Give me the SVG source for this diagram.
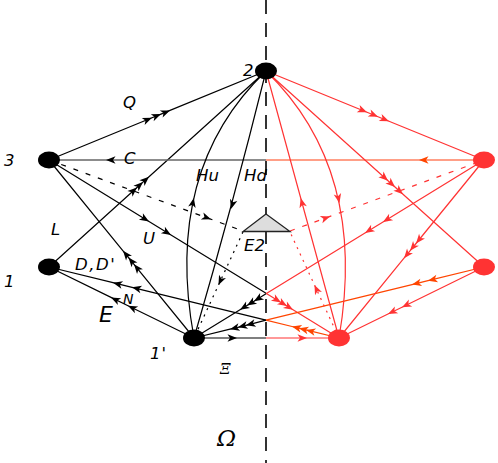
<svg xmlns="http://www.w3.org/2000/svg" width="498" height="463" viewBox="0 0 498 463">
<style>
.k{stroke:#000;stroke-width:1.2;fill:none}
.r{stroke:#ff3333;stroke-width:1.2;fill:none}
.o{stroke:#ff4500;stroke-width:1.2;fill:none}
.g{stroke:#666;stroke-width:1.4;fill:none}
.c{stroke:#ff7f5f;stroke-width:1.6;fill:none}
.mk{marker-mid:url(#ak)}
.mr{marker-mid:url(#ar)}
.mo{marker-mid:url(#ao)}
.dash{stroke-dasharray:5,8}
.dot{stroke-dasharray:2,5}
.lab{font-family:"DejaVu Sans",sans-serif;font-style:italic;font-size:16.5px;fill:#000}
</style>
<defs>
<marker id="ak" viewBox="-10 -5 12 10" markerWidth="12" markerHeight="10" refX="0" refY="0" orient="auto" markerUnits="userSpaceOnUse"><path d="M0,0 L-9.5,-3.8 L-7,0 L-9.5,3.8z" fill="#000"/></marker>
<marker id="ar" viewBox="-10 -5 12 10" markerWidth="12" markerHeight="10" refX="0" refY="0" orient="auto" markerUnits="userSpaceOnUse"><path d="M0,0 L-9.5,-3.8 L-7,0 L-9.5,3.8z" fill="#ff3333"/></marker>
<marker id="ao" viewBox="-10 -5 12 10" markerWidth="12" markerHeight="10" refX="0" refY="0" orient="auto" markerUnits="userSpaceOnUse"><path d="M0,0 L-9.5,-3.8 L-7,0 L-9.5,3.8z" fill="#ff4500"/></marker>
<marker id="akE" viewBox="-10 -5 12 10" markerWidth="12" markerHeight="10" refX="0" refY="0" orient="auto" markerUnits="userSpaceOnUse"><path d="M0,0 L-9.5,-3.8 L-7,0 L-9.5,3.8z" fill="#000"/></marker>
<marker id="arE" viewBox="-10 -5 12 10" markerWidth="12" markerHeight="10" refX="0" refY="0" orient="auto" markerUnits="userSpaceOnUse"><path d="M0,0 L-9.5,-3.8 L-7,0 L-9.5,3.8z" fill="#ff3333"/></marker>
</defs>
<rect width="498" height="463" fill="#fff"/>
<path d="M266,0 L266,463" stroke="#333" stroke-width="2" stroke-dasharray="14,9" fill="none"/>
<g id="connectors">
<path class="k mk" d="M49,160 L152,117.8 L161,114.1 L170,110.4 L266,71"/>
<path class="k mk" d="M49,267 L137,187.5 L143,182.1 L149,176.7 L266,71"/>
<path class="k mk" d="M194,338 L134,264.3 L128.5,257.5 L123,250.8 L49,160"/>
<path class="k mk" d="M49,160 L149,221.4 L171,234.9 L266,293.2"/>
<path class="r mr" d="M266,293.2 L281,302.4 L287,306.1 L293,309.8 L339,338"/>
<path class="r mr" d="M484,160 L383,222 L365,233 L266,293.8"/>
<path class="k mk" d="M266,293.8 L254,301.2 L247,305.5 L240,309.8 L194,338"/>
<path class="o mo" d="M339,338 L306,329.9 L299,328.2 L292,326.5 L266,320.1"/>
<path class="k mk" d="M266,320.1 L132,287.3 L113,282.7 L49,267"/>
<path class="o mo" d="M484,267 L428,280.7 L412,284.6 L266,320.1"/>
<path class="k mk" d="M266,320.1 L246,325.3 L238,327.3 L230,329.2 L194,338"/>
<path class="k mk" d="M194,338 L128,305.7 L111,297.4 L49,267"/>
<path class="k mk" d="M194,338 L237,338 L266,338"/>
<path class="r mr" d="M266,338 L307,338 L339,338"/>
<path class="c mo" d="M484,160 L419,160 L266,160"/>
<path class="g mk" d="M266,160 L106,160 L49,160"/>
<path class="r mr" d="M266,71 L367,112.2 L378,116.7 L389,121.2 L484,160"/>
<path class="r mr" d="M266,71 L388,180.7 L395,187 L403,194.2 L484,267"/>
<path class="r mr" d="M484,160 L416,243.5 L410,250.8 L404,258.2 L339,338"/>
<path class="r mr" d="M484,267 L402,307.2 L388,314 L339,338"/>
<path class="k" d="M266,71 Q233,204 194,338"/>
<path d="M232.1,205.2 L231,209" fill="none" stroke="none" marker-end="url(#akE)"/>
<path class="k" d="M194,338 Q163,170 266,71"/>
<path d="M193,201.9 L193.8,198" fill="none" stroke="none" marker-end="url(#akE)"/>
<path class="r mr" d="M339,338 L300.7,198 L266,71"/>
<path class="r" d="M266,71 Q368,170 339,338"/>
<path d="M338.6,199.1 L339.5,203" fill="none" stroke="none" marker-end="url(#arE)"/>
<path class="k mk dash" d="M49,160 L211,219.3 L243,231"/>
<path class="r mr dash" d="M290,231 L330,216.4 L484,160"/>
<path class="k mk dot" d="M243,232 L218.5,285 L194,338"/>
<path class="r mr dot" d="M339,338 L314.5,285 L290,232"/>
</g>
<g id="E2node"><path d="M266,214 L243,231.5 L290,231.5 Z" fill="#ddd" stroke="#222" stroke-width="1.3"/></g>
<g id="n2"><ellipse cx="266" cy="71" rx="11" ry="8.5" fill="#000"/></g>
<g id="n3"><ellipse cx="49" cy="160" rx="11" ry="8.5" fill="#000"/></g>
<g id="n1"><ellipse cx="49" cy="267" rx="11" ry="8.5" fill="#000"/></g>
<g id="n1p"><ellipse cx="194" cy="338" rx="11" ry="8.5" fill="#000"/></g>
<g id="r3"><ellipse cx="484" cy="160" rx="11" ry="8.5" fill="#ff3333"/></g>
<g id="r1"><ellipse cx="484" cy="267" rx="11" ry="8.5" fill="#ff3333"/></g>
<g id="r1p"><ellipse cx="339" cy="338" rx="11" ry="8.5" fill="#ff3333"/></g>
<g id="labels">
<text class="lab" x="243" y="76">2</text>
<text class="lab" x="123" y="108">Q</text>
<text class="lab" x="4" y="166">3</text>
<text class="lab" x="124" y="164">C</text>
<text class="lab" x="196" y="181">Hu</text>
<text class="lab" x="244" y="181">Hd</text>
<text class="lab" x="51" y="235">L</text>
<text class="lab" x="143" y="244">U</text>
<text class="lab" x="244" y="251">E2</text>
<text class="lab" x="4" y="287">1</text>
<text class="lab" x="75" y="270" letter-spacing="1.5">D,D'</text>
<text class="lab" x="123" y="304" style="font-size:14px">N</text>
<text class="lab" x="99" y="322" style="font-size:22px">E</text>
<text class="lab" x="150" y="359" letter-spacing="1">1'</text>
<text class="lab" x="220" y="374" style="font-family:'DejaVu Serif',serif;font-size:15px">Ξ</text>
<text class="lab" x="217" y="446" style="font-family:'DejaVu Serif',serif;font-size:23px">Ω</text>
</g>
</svg>
